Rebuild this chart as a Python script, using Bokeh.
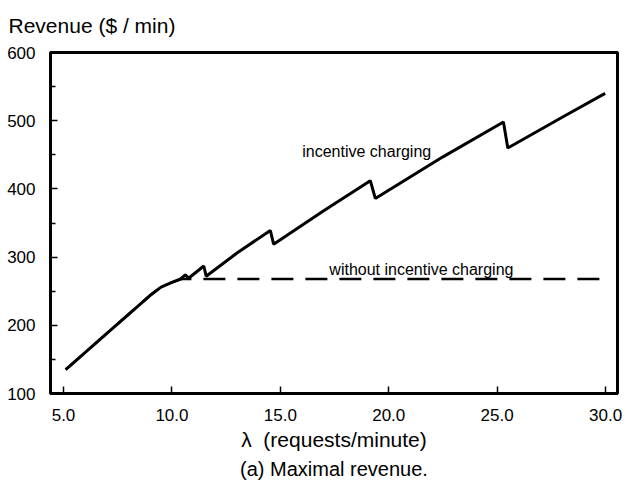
from bokeh.plotting import figure
from bokeh.models import FixedTicker, PrintfTickFormatter, Title, Range1d
from bokeh.core.properties import value
from bokeh.embed import file_html
from bokeh.resources import INLINE

# Data
lam_incentive = [5.1, 7.0, 9.0, 9.5, 10.0, 10.4, 10.62, 10.77, 11.47, 11.58,
                 13.0, 14.54, 14.69, 17.0, 19.15, 19.38, 22.5, 25.29, 25.49, 28.0, 29.98]
rev_incentive = [135, 188, 244, 256, 263, 268, 274, 269, 287, 272,
                 306, 339, 319, 368, 412, 386, 447, 498, 460, 505, 540]

lam_without = [5.1, 9.0, 9.5, 10.0, 10.5, 29.9]
rev_without = [135, 244, 256, 263, 268, 268]

x_ticks = [5, 10, 15, 20, 25, 30]
y_ticks = [100, 200, 300, 400, 500, 600]
y_minor = [150, 250, 350, 450, 550]

FONT = "Liberation Sans"

p = figure(width=624, height=482, output_backend="svg", toolbar_location=None,
           x_range=Range1d(4.40, 30.55), y_range=Range1d(100, 600),
           min_border_left=50, min_border_right=7, min_border_top=49, min_border_bottom=10)

p.title.text = "Revenue ($ / min)"
p.title.text_font = FONT
p.title.text_font_size = "21px"
p.title.text_font_style = "normal"
p.title.text_color = "black"
p.title.align = "left"
p.title.offset = -42
p.title.standoff = 27
p.title.vertical_align = "top"

p.xgrid.visible = False
p.ygrid.visible = False
p.outline_line_color = "black"
p.outline_line_width = 3
p.outline_line_alpha = 1.0

p.line(lam_incentive, rev_incentive, line_color="black", line_width=3)
p.line(lam_without, rev_without, line_color="black", line_width=2.5, line_dash="22 12")

p.text(x=[16.01], y=[455.3], text=["incentive charging"], text_font=value(FONT),
       text_font_size="16px", text_baseline="middle", text_align="left", text_color="black")
p.text(x=[17.26], y=[281.3], text=["without incentive charging"], text_font=value(FONT),
       text_font_size="16px", text_baseline="middle", text_align="left", text_color="black")

xa = p.xaxis[0]
xa.ticker = FixedTicker(ticks=x_ticks, minor_ticks=[])
xa.formatter = PrintfTickFormatter(format="%.1f")
xa.axis_line_width = 3
xa.major_tick_in = 7
xa.major_tick_out = 0
xa.major_tick_line_width = 1.5
xa.minor_tick_in = 0
xa.minor_tick_out = 0
xa.major_label_text_font = FONT
xa.major_label_text_font_size = "17px"
xa.major_label_text_color = "black"
xa.major_label_standoff = 15
xa.axis_label = "λ\u00a0\u00a0(requests/minute)"
xa.axis_label_text_font = FONT
xa.axis_label_text_font_size = "21px"
xa.axis_label_text_font_style = "normal"
xa.axis_label_text_color = "black"
xa.axis_label_standoff = 4

ya = p.yaxis[0]
ya.ticker = FixedTicker(ticks=y_ticks, minor_ticks=y_minor)
ya.axis_line_width = 3
ya.major_tick_in = 7
ya.major_tick_out = 0
ya.major_tick_line_width = 1.5
ya.minor_tick_in = 5
ya.minor_tick_out = 0
ya.minor_tick_line_width = 1.5
ya.major_label_text_font = FONT
ya.major_label_text_font_size = "17px"
ya.major_label_text_color = "black"
ya.major_label_standoff = 15

cap = Title(text="(a) Maximal revenue.", align="center", text_font=FONT,
            text_font_size="20px", text_font_style="normal", text_color="black", standoff=5)
p.add_layout(cap, "below")

open("out.html", "w").write(file_html(p, INLINE))
